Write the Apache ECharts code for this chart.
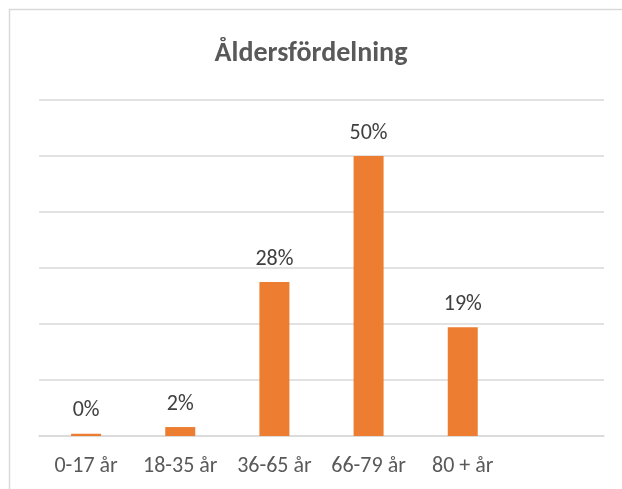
<!DOCTYPE html>
<html>
<head>
<meta charset="utf-8">
<script src="https://cdn.jsdelivr.net/npm/echarts@6/dist/echarts.min.js"></script>
<style>
  html, body { margin: 0; padding: 0; background: #fff; }
  #main { width: 622px; height: 489px; }
</style>
</head>
<body>
<div id="main"></div>
<script>
var categories = ['0-17 år', '18-35 år', '36-65 år', '66-79 år', '80 + år', ''];
var values = [0.4, 1.6, 27.5, 50, 19.4, null];
var labels = ['0%', '2%', '28%', '50%', '19%', ''];

var myChart = echarts.init(document.getElementById('main'));
var font = 'Carlito, "Open Sans", "Liberation Sans", sans-serif';

option = {
    backgroundColor: '#fff',
    animation: false,
    title: {
        text: 'Åldersfördelning',
        left: 'center',
        top: 35,
        textStyle: {
            fontFamily: font,
            fontSize: 28,
            fontWeight: 'bold',
            color: '#595959'
        }
    },
    graphic: [{
        type: 'rect',
        shape: { x: 9.5, y: 9.5, width: 700, height: 600 },
        style: { fill: 'none', stroke: '#d9d9d9', lineWidth: 1.5 },
        silent: true
    }],
    grid: {
        left: 39,
        right: 18,
        top: 100,
        bottom: 53
    },
    xAxis: {
        type: 'category',
        data: categories,
        axisTick: { show: false },
        axisLine: { lineStyle: { color: '#d9d9d9', width: 1.5 } },
        axisLabel: {
            interval: 0,
            margin: 19,
            fontFamily: font,
            fontSize: 22,
            color: '#595959'
        }
    },
    yAxis: {
        type: 'value',
        min: 0,
        max: 60,
        interval: 10,
        axisLabel: { show: false },
        axisLine: { show: false },
        axisTick: { show: false },
        splitLine: { lineStyle: { color: '#d9d9d9', width: 1.5 } }
    },
    series: [{
        type: 'bar',
        data: values,
        barWidth: 30,
        itemStyle: { color: '#ed7d31' },
        label: {
            show: true,
            position: 'top',
            distance: 12,
            fontFamily: font,
            fontSize: 22,
            color: '#404040',
            formatter: function (p) {
                return labels[p.dataIndex];
            }
        }
    }]
};

myChart.setOption(option);
</script>
</body>
</html>
